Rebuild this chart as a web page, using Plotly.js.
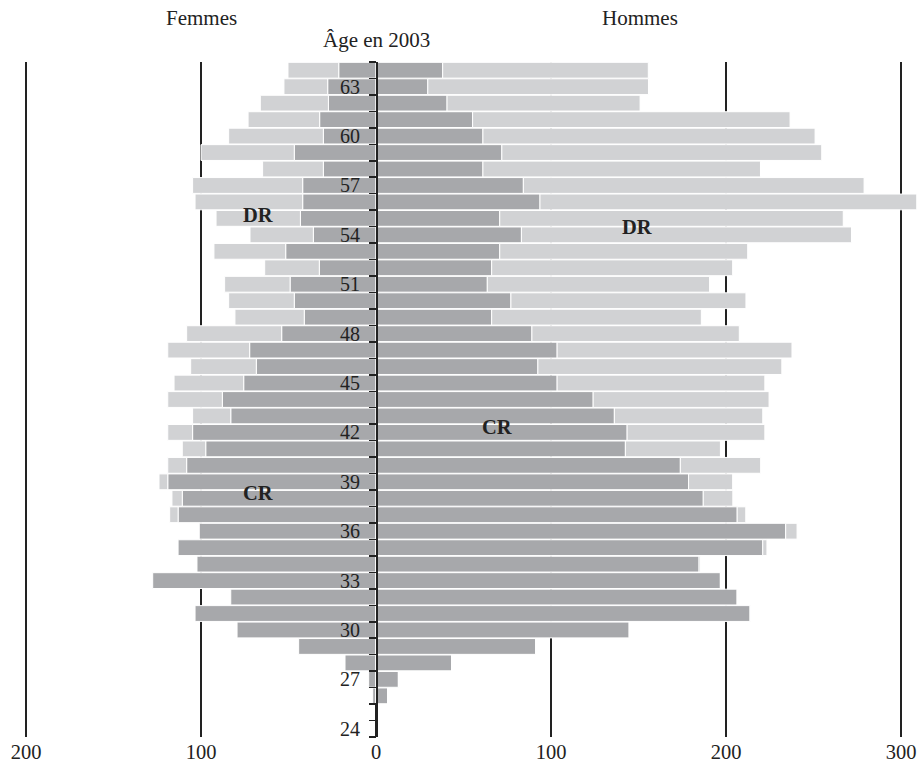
<!DOCTYPE html>
<html>
<head>
<meta charset="utf-8">
<script src="https://cdn.plot.ly/plotly-3.0.1.min.js"></script>
<style>html,body{margin:0;padding:0;background:#fff;}#chart{width:923px;height:762px;}</style>
</head>
<body>
<div id="chart"></div>
<script>
// Ages 26 .. 64
var ages = [26,27,28,29,30,31,32,33,34,35,36,37,38,39,40,41,42,43,44,45,46,47,48,49,50,51,52,53,54,55,56,57,58,59,60,61,62,63,64];

// Femmes (women)
var femmesCR = [1.9,4.2,17.7,44.2,79.4,103.4,83,127.6,102.3,113.1,101,113.1,110.7,119,108.2,97.3,104.8,83,87.8,75.6,68.4,72.2,53.9,41,46.7,49.1,32.4,51.6,35.8,43.2,41.9,41.9,30.1,46.7,30.1,32.2,27.2,27.6,21.3];
var femmesDR = [0,0,0,0,0,0,0,0,0,0,0,4.8,5.9,5,10.8,13.4,14.2,21.8,31.2,39.8,37.5,46.8,54.3,39.6,37.5,37.4,31.2,41,36.2,48.2,61.5,62.9,34.7,53.3,54.1,40.9,38.9,25,29];

// Hommes (men)
var hommesCR = [6.6,12.8,43.2,91.3,144.7,213.8,206.4,196.8,184.6,221,234.1,206.4,187,178.6,173.9,142.5,143.5,136.2,124.1,103.5,92.5,103.5,89.1,66.1,77.1,63.6,66.1,70.7,83.1,70.7,93.7,84.2,61.1,71.9,61.1,55.2,40.6,29.6,38.1];
var hommesDR = [0,0,0,0,0,0,0,0,0.8,2.4,6.5,4.9,16.9,25.2,45.9,54.3,78.7,84.8,100.5,118.7,139.4,134.2,118.5,119.8,134.3,127,137.7,141.7,188.6,196.3,215.3,194.7,158.6,182.8,189.8,181.4,110.3,126.1,117.5];

// Axis labels
var ageTicks = [24,27,30,33,36,39,42,45,48,51,54,57,60,63];
var xTickVals = [-200,-100,0,100,200,300];
var xTickText = ['200','100','0','100','200','300'];

var DARK = '#a7a8ab', LIGHT = '#d1d2d4', INK = '#222222';
var FONT = 'Liberation Serif, Times New Roman, serif';

function neg(a){ return a.map(function(v){ return -v; }); }

var common = {type:'bar', orientation:'h', y: ages, hoverinfo:'skip', showlegend:false};
function tr(x, color){
  var t = Object.assign({}, common);
  t.x = x;
  t.marker = {color: color, line: {color:'#ffffff', width:1}};
  return t;
}

var data = [
  tr(neg(femmesCR), DARK),
  tr(neg(femmesDR), LIGHT),
  tr(hommesCR, DARK),
  tr(hommesDR, LIGHT)
];

var xr = [-(376-20)/1.75, (923-376)/1.75];
var minorVals = [];
for (var k = 23; k <= 64; k++) minorVals.push(k + 0.5);

var layout = {
  width: 923, height: 762,
  margin: {l:20, r:0, t:62, b:25, pad:0},
  paper_bgcolor:'#ffffff', plot_bgcolor:'#ffffff',
  barmode:'relative', bargap:0.04,
  font: {family: FONT, size: 20, color: INK},
  xaxis: {
    range: xr, tickmode:'array', tickvals: xTickVals, ticktext: xTickText,
    showgrid:true, gridcolor: INK, gridwidth:1.5, zeroline:false, showline:false,
    ticks:'', tickfont:{family:FONT, size:20.5, color:INK}, fixedrange:true
  },
  yaxis: {
    range:[23.5, 64.5], anchor:'free', position: (376-20)/903,
    showline:true, linecolor: INK, linewidth:1.5, showgrid:false, zeroline:false,
    tickmode:'array', tickvals: ageTicks, ticks:'outside', ticklen:12, tickcolor:'rgba(0,0,0,0)',
    tickfont:{family:FONT, size:20, color:INK},
    minor: {tickmode:'array', tickvals: minorVals, ticks:'outside', ticklen:7, tickwidth:1.5, tickcolor:INK, showgrid:false},
    fixedrange:true
  },
  annotations: [
    {text:'Femmes', xref:'x', yref:'paper', x:-100, y:(737-18)/675, showarrow:false, font:{family:FONT,size:21,color:INK}, xanchor:'center', yanchor:'middle'},
    {text:'Hommes', xref:'x', yref:'paper', x:151, y:(737-18)/675, showarrow:false, font:{family:FONT,size:21,color:INK}, xanchor:'center', yanchor:'middle'},
    {text:'Âge en 2003', xref:'x', yref:'paper', x:0.5, y:(737-40)/675, showarrow:false, font:{family:FONT,size:21,color:INK}, xanchor:'center', yanchor:'middle'},
    {text:'<b>DR</b>', xref:'x', yref:'y', x:-67.4, y:55.2, showarrow:false, font:{family:FONT,size:20.5,color:INK}},
    {text:'<b>DR</b>', xref:'x', yref:'y', x:149, y:54.5, showarrow:false, font:{family:FONT,size:20.5,color:INK}},
    {text:'<b>CR</b>', xref:'x', yref:'y', x:-67.4, y:38.3, showarrow:false, font:{family:FONT,size:20.5,color:INK}},
    {text:'<b>CR</b>', xref:'x', yref:'y', x:69, y:42.3, showarrow:false, font:{family:FONT,size:20.5,color:INK}}
  ]
};

Plotly.newPlot('chart', data, layout, {displayModeBar:false, staticPlot:true});
</script>
</body>
</html>
